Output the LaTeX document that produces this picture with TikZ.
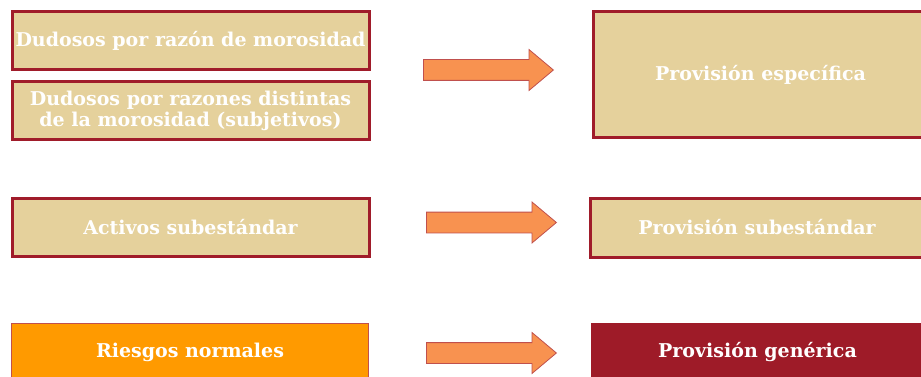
\documentclass[tikz,border=0pt]{standalone}
\usepackage{fontspec}
\setmainfont{DejaVu Serif}
\usetikzlibrary{shapes}
\definecolor{tan}{HTML}{E5D19C}
\definecolor{wine}{HTML}{A01C2A}
\definecolor{deepwine}{HTML}{9E1B28}
\definecolor{amber}{HTML}{FF9A00}
\definecolor{peach}{HTML}{F89250}
\definecolor{rust}{HTML}{C0504D}
\begin{document}
\begin{tikzpicture}[
  x=1pt, y=-1pt,
  every node/.style = {align=center, text=white,
    font=\fontsize{19}{21}\selectfont\bfseries},
  tanbox/.style = {rectangle, fill=tan, draw=wine, line width=3pt},
  leftbox/.style = {minimum width=357pt, minimum height=58pt},
  rightbox/.style = {minimum width=334pt},
  blockarrow/.style = {single arrow, anchor=tail, fill=peach, draw=rust,
    line width=0.8pt, single arrow head extend=10pt, single arrow tip angle=80,
    inner xsep=0pt, inner ysep=10pt, text height=0pt, text depth=0pt,
    minimum height=130pt}]
  \useasboundingbox (0,0) rectangle (921,377);
  \node[tanbox, leftbox] (razon) at (190.5,41) {Dudosos por razón de morosidad};
  \node[tanbox, leftbox] (subjetivos) at (190.5,111)
    {Dudosos por razones distintas\\de la morosidad (subjetivos)};
  \node[tanbox, rightbox, minimum height=126pt] (especifica) at (760.5,75)
    {Provisión específica};
  \node[blockarrow] (flechaA) at (423,70) {};

  \node[tanbox, leftbox] (activos) at (190.5,227) {Activos subestándar};
  \node[tanbox, rightbox, minimum height=59pt] (subestandar) at (757,227.5)
    {Provisión subestándar};
  \node[blockarrow] (flechaB) at (426,222.5) {};

  \node[leftbox, fill=amber, draw=rust, line width=0.8pt] (normales) at (190,352.5)
    {Riesgos normales};
  \node[rightbox, minimum height=59pt, fill=deepwine] (generica) at (757.5,352.5)
    {Provisión genérica};
  \node[blockarrow] (flechaC) at (426,353) {};
\end{tikzpicture}
\end{document}
